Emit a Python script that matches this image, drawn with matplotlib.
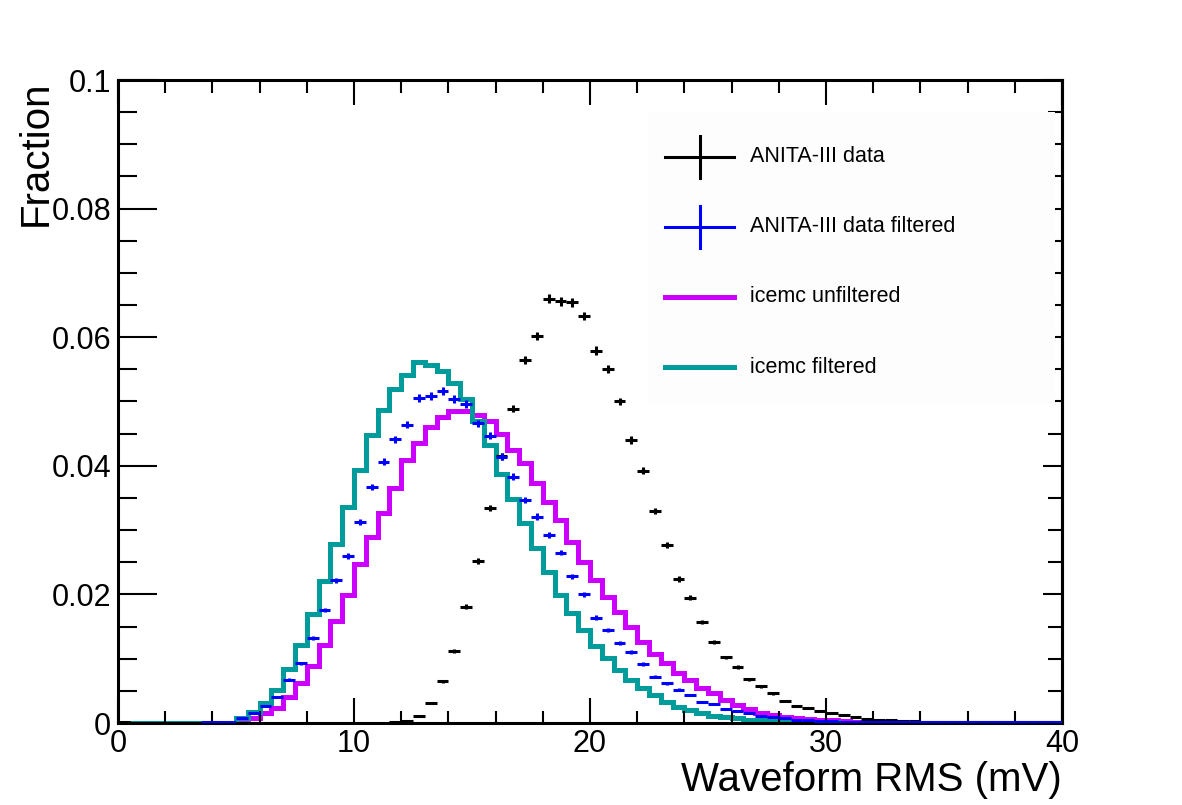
import numpy as np
import matplotlib
matplotlib.use("Agg")
import matplotlib.pyplot as plt
from matplotlib.ticker import MultipleLocator, FuncFormatter
from matplotlib.lines import Line2D
from matplotlib.patches import Rectangle

# ---------------- data (fraction per 0.5 mV bin, 0..40 mV) ----------------
bin_edges = np.arange(0, 40.0001, 0.5)

anita_data = [
    0.0001, 0, 0, 0, 0, 0, 0, 0, 0, 0,
    0, 0, 0, 0, 0, 0, 0, 0, 0, 0,
    0, 0, 0, 0.0001, 0.0003, 0.0011, 0.0031, 0.0065, 0.0112, 0.0181,
    0.0252, 0.0334, 0.0415, 0.0489, 0.0565, 0.0602, 0.0660, 0.0656, 0.0654, 0.0633,
    0.0579, 0.0551, 0.0500, 0.0440, 0.0392, 0.0330, 0.0277, 0.0224, 0.0195, 0.0157,
    0.0126, 0.0102, 0.0087, 0.0068, 0.0057, 0.0046, 0.0034, 0.0027, 0.0024, 0.0019,
    0.0015, 0.0013, 0.0009, 0.0006, 0.0005, 0.0004, 0.0003, 0.0003, 0.0002, 0.0002,
    0.0002, 0.0001, 0.0001, 0.0001, 0.0001, 0.0001, 0.0001, 0.0001, 0.0001, 0.0001,
]

anita_filtered = [
    0, 0, 0, 0, 0, 0, 0, 0.0001, 0.0001, 0.0002,
    0.0007, 0.0015, 0.0026, 0.0041, 0.0067, 0.0093, 0.0132, 0.0176, 0.0222, 0.0260,
    0.0312, 0.0367, 0.0406, 0.0441, 0.0464, 0.0506, 0.0508, 0.0517, 0.0504, 0.0496,
    0.0466, 0.0447, 0.0414, 0.0383, 0.0347, 0.0321, 0.0293, 0.0265, 0.0228, 0.0200,
    0.0164, 0.0145, 0.0124, 0.0110, 0.0092, 0.0072, 0.0062, 0.0052, 0.0044, 0.0033,
    0.0030, 0.0022, 0.0019, 0.0015, 0.0011, 0.0010, 0.0007, 0.0005, 0.0004, 0.0003,
    0.0003, 0.0002, 0.0002, 0.0002, 0.0002, 0.0002, 0.0001, 0.0001, 0.0001, 0.0001,
    0.0001, 0.0001, 0.0001, 0.0001, 0.0001, 0.0001, 0.0001, 0.0001, 0.0001, 0.0001,
]

icemc_unfiltered = [
    0, 0, 0, 0, 0, 0, 0, 0, 0, 0,
    0.0003, 0.0007, 0.0015, 0.0024, 0.0041, 0.0062, 0.0088, 0.0121, 0.0158, 0.0199,
    0.0248, 0.0290, 0.0326, 0.0365, 0.0409, 0.0435, 0.0461, 0.0476, 0.0485, 0.0485,
    0.0479, 0.0469, 0.0450, 0.0425, 0.0404, 0.0373, 0.0344, 0.0316, 0.0282, 0.0251,
    0.0222, 0.0196, 0.0173, 0.0149, 0.0126, 0.0108, 0.0093, 0.0078, 0.0067, 0.0055,
    0.0046, 0.0036, 0.0028, 0.0021, 0.0016, 0.0013, 0.0010, 0.0008, 0.0006, 0.0005,
    0.0004, 0.0003, 0.0002, 0.0001, 0.0001, 0.0001, 0, 0, 0, 0,
    0, 0, 0, 0, 0, 0, 0, 0, 0, 0,
]

icemc_filtered = [
    0, 0, 0, 0, 0, 0, 0, 0, 0, 0,
    0.0008, 0.0017, 0.0031, 0.0051, 0.0084, 0.0122, 0.0169, 0.0221, 0.0279, 0.0336,
    0.0393, 0.0448, 0.0487, 0.0520, 0.0541, 0.0561, 0.0557, 0.0548, 0.0528, 0.0504,
    0.0469, 0.0432, 0.0388, 0.0349, 0.0311, 0.0272, 0.0235, 0.0199, 0.0171, 0.0145,
    0.0119, 0.0101, 0.0082, 0.0067, 0.0054, 0.0044, 0.0033, 0.0025, 0.0020, 0.0015,
    0.0011, 0.0009, 0.0007, 0.0005, 0.0004, 0.0003, 0.0002, 0.0002, 0.0001, 0.0001,
    0.0001, 0, 0, 0, 0, 0, 0, 0, 0, 0,
    0, 0, 0, 0, 0, 0, 0, 0, 0, 0,
]

legend_labels = ["ANITA-III data", "ANITA-III data filtered",
                 "icemc unfiltered", "icemc filtered"]
x_label = "Waveform RMS (mV)"
y_label = "Fraction"
n_events = 135000  # approx. event count used for statistical error bars

# ---------------- style ----------------
plt.rcParams['font.family'] = ['Liberation Sans', 'DejaVu Sans']
C_BLACK = "#000000"
C_BLUE = "#0000FF"
C_MAG = "#CC00FF"
C_TEAL = "#009B9B"

W, H = 1182, 805
fig = plt.figure(figsize=(W / 100, H / 100), dpi=100)
fig.patch.set_facecolor("white")

def fx(px):
    return px / W

def fy(py):
    return 1 - py / H

L, R, T, B = 118, 1062, 80, 723
ax = fig.add_axes([fx(L), fy(B), (R - L) / W, (B - T) / H])

centers = 0.5 * (bin_edges[:-1] + bin_edges[1:])
half_w = 0.5 * (bin_edges[1] - bin_edges[0])

ax.stairs(icemc_unfiltered, bin_edges, color=C_MAG, linewidth=3.6, baseline=0)
ax.stairs(icemc_filtered, bin_edges, color=C_TEAL, linewidth=3.6, baseline=0)

for vals, col in [(anita_data, C_BLACK), (anita_filtered, C_BLUE)]:
    v = np.asarray(vals, dtype=float)
    m = v > 0
    err = np.sqrt(v[m] / n_events)
    ax.errorbar(centers[m], v[m], xerr=half_w, yerr=err, fmt="none",
                ecolor=col, elinewidth=2.2, capsize=0, zorder=3)

ax.set_xlim(0, 40)
ax.set_ylim(0, 0.1)

for s in ax.spines.values():
    s.set_linewidth(2.2)
    s.set_zorder(2.6)

ax.xaxis.set_major_locator(MultipleLocator(10))
ax.xaxis.set_minor_locator(MultipleLocator(2))
ax.yaxis.set_major_locator(MultipleLocator(0.02))
ax.yaxis.set_minor_locator(MultipleLocator(0.005))

def yfmt(v, pos):
    if abs(v) < 1e-9:
        return "0"
    if abs(v - 0.1) < 1e-9:
        return "0.1"
    return f"{v:.2f}"

ax.yaxis.set_major_formatter(FuncFormatter(yfmt))
ax.xaxis.set_major_formatter(FuncFormatter(lambda v, p: f"{v:.0f}"))

ax.tick_params(axis="x", which="major", direction="in", length=18, width=1.5,
               labelsize=22, pad=4, top=True)
ax.tick_params(axis="x", which="minor", direction="in", length=9, width=1.5, top=True)
ax.tick_params(axis="y", which="major", direction="in", length=28, width=1.5,
               labelsize=22, pad=5)
ax.tick_params(axis="y", which="minor", direction="in", length=14, width=1.5)

sec = ax.secondary_yaxis("right")
sec.yaxis.set_major_locator(MultipleLocator(0.02))
sec.yaxis.set_minor_locator(MultipleLocator(0.005))
sec.tick_params(axis="y", which="major", direction="in", length=14, width=1.5, labelright=False)
sec.tick_params(axis="y", which="minor", direction="in", length=10, width=1.5, labelright=False)
sec.spines["right"].set_linewidth(2.2)

# axis titles
fig.text(fx(R), fy(791), x_label, ha="right", va="baseline", fontsize=29)
fig.text(fx(36), fy(T), y_label, ha="center", va="top", rotation=90, fontsize=29)

# legend (drawn manually, ROOT style)
fig.add_artist(Rectangle((fx(648), fy(405)), (1055 - 648) / W, (405 - 112) / H,
                         transform=fig.transFigure, facecolor="#FDFDFD",
                         edgecolor="none", zorder=1))
rows = [157, 227, 297, 367]
styles = [(C_BLACK, 2.2, True), (C_BLUE, 2.2, True), (C_MAG, 3.6, False), (C_TEAL, 3.6, False)]
for yrow, lab, (col, lw, cross) in zip(rows, legend_labels, styles):
    fig.add_artist(Line2D([fx(665), fx(734)], [fy(yrow), fy(yrow)],
                          transform=fig.transFigure, color=col, linewidth=lw, zorder=5))
    if cross:
        fig.add_artist(Line2D([fx(700), fx(700)], [fy(yrow - 21), fy(yrow + 21)],
                              transform=fig.transFigure, color=col, linewidth=lw, zorder=5))
    fig.text(fx(750), fy(yrow), lab, ha="left", va="center", fontsize=15.5, zorder=5)

fig.savefig("out.png", dpi=100, facecolor="white")
